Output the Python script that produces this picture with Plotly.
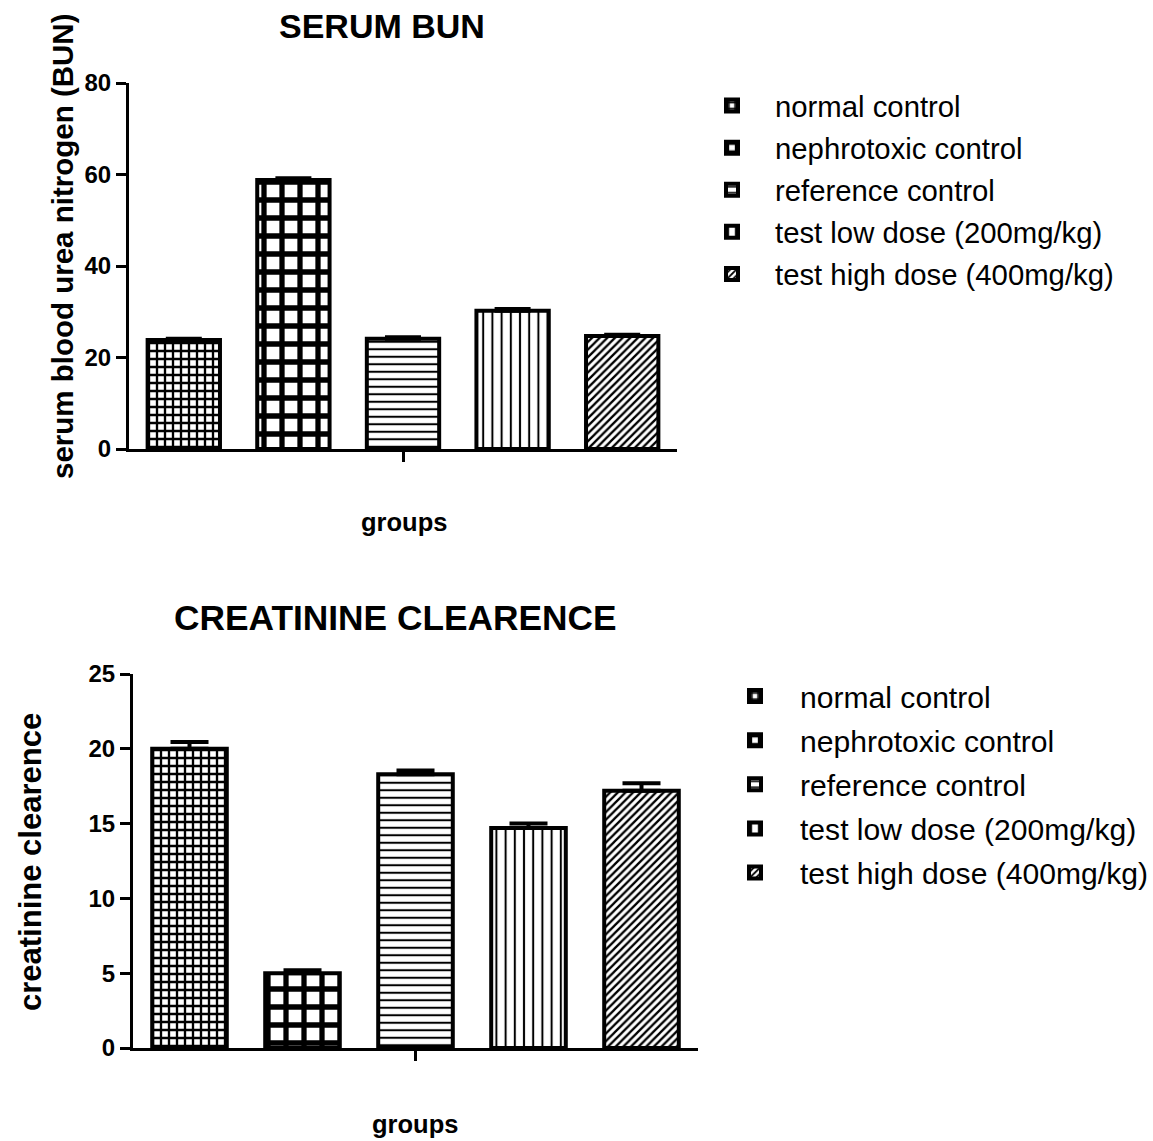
import plotly.graph_objects as go

groups = ["normal control", "nephrotoxic control", "reference control",
          "test low dose (200mg/kg)", "test high dose (400mg/kg)"]
bun_mean = [23.8, 58.8, 24.1, 30.2, 24.7]
bun_sem = [0.3, 0.4, 0.3, 0.4, 0.3]
crcl_mean = [20.0, 5.0, 18.3, 14.7, 17.2]
crcl_sem = [0.45, 0.2, 0.25, 0.3, 0.5]
bun_ticks = [0, 20, 40, 60, 80]
crcl_ticks = [0, 5, 10, 15, 20, 25]

patterns = [
    dict(shape="+", size=8, solidity=0.5),
    dict(shape="+", size=18, solidity=0.5),
    dict(shape="-", size=7.5, solidity=0.27),
    dict(shape="|", size=9.2, solidity=0.22),
    dict(shape="/", size=5.4, solidity=0.42),
]

W, H = 1153, 1141
FONT = "Liberation Sans, Arial, sans-serif"

fig = go.Figure()

def add_set(means, sems, xa, ya, legend, capw, tag):
    for i, g in enumerate(groups):
        p = patterns[i]
        fig.add_trace(go.Bar(
            x=[g], y=[means[i]], name=g, xaxis=xa, yaxis=ya, legend=legend,
            legendgroup=f"{tag}{i}", width=0.66,
            marker=dict(color="white", line=dict(color="black", width=4),
                        pattern=dict(shape=p["shape"], size=p["size"], solidity=p["solidity"],
                                     fgcolor="black", bgcolor="white", fgopacity=1)),
            error_y=dict(type="data", array=[sems[i]], arrayminus=[0], symmetric=False,
                         color="black", thickness=4, width=capw),
        ))

add_set(bun_mean, bun_sem, "x", "y", "legend", 18, "a")
add_set(crcl_mean, crcl_sem, "x2", "y2", "legend2", 19, "b")

def px_x(p):
    return p / W

def px_y(p):
    return 1 - p / H

axis_common = dict(showline=True, linecolor="black", linewidth=3, ticks="outside",
                   tickwidth=3, ticklen=10, tickcolor="black", showgrid=False, zeroline=False,
                   automargin=False,
                   tickfont=dict(family=FONT, size=24, color="black", weight="bold"))

fig.update_layout(
    width=W, height=H, margin=dict(l=0, r=0, t=0, b=0, autoexpand=False),
    paper_bgcolor="white", plot_bgcolor="white", barmode="overlay", showlegend=True,
    font=dict(family=FONT, color="black"),
    xaxis=dict(domain=[px_x(129), px_x(677)], anchor="y", type="category",
               categoryorder="array", categoryarray=groups, range=[-0.5, 4.5],
               tickvals=[groups[2]], ticktext=[""], **axis_common),
    yaxis=dict(domain=[px_y(449), px_y(83)], anchor="x", range=[0, 80],
               tickvals=bun_ticks, **axis_common),
    xaxis2=dict(domain=[px_x(133), px_x(698)], anchor="y2", type="category",
                categoryorder="array", categoryarray=groups, range=[-0.5, 4.5],
                tickvals=[groups[2]], ticktext=[""], **axis_common),
    yaxis2=dict(domain=[px_y(1048), px_y(674)], anchor="x2", range=[0, 25],
                tickvals=crcl_ticks, **axis_common),
    legend=dict(x=px_x(689), y=px_y(80), xanchor="left", yanchor="top",
                font=dict(family=FONT, size=29.3, color="black"), itemwidth=76,
                tracegroupgap=1, bgcolor="rgba(0,0,0,0)", traceorder="grouped"),
    legend2=dict(x=px_x(710), y=px_y(670), xanchor="left", yanchor="top",
                 font=dict(family=FONT, size=30.1, color="black"), itemwidth=80,
                 tracegroupgap=2, bgcolor="rgba(0,0,0,0)", traceorder="grouped"),
)

def ann(text, x, y, size, angle=0):
    fig.add_annotation(text=text, x=px_x(x), y=px_y(y), xref="paper", yref="paper",
                       showarrow=False, textangle=angle, xanchor="center", yanchor="middle",
                       font=dict(family=FONT, size=size, color="black", weight="bold"))

ann("SERUM BUN", 382, 26, 34)
ann("CREATININE CLEARENCE", 395, 617, 35.3)
ann("serum blood urea nitrogen (BUN)", 63, 247, 29.5, -90)
ann("creatinine clearence", 30, 862, 31, -90)
ann("groups", 404, 522, 25.5)
ann("groups", 415, 1124, 25.5)

fig.write_html("out.html", config={"displayModeBar": False},
               post_script="document.body.style.margin='0';")
